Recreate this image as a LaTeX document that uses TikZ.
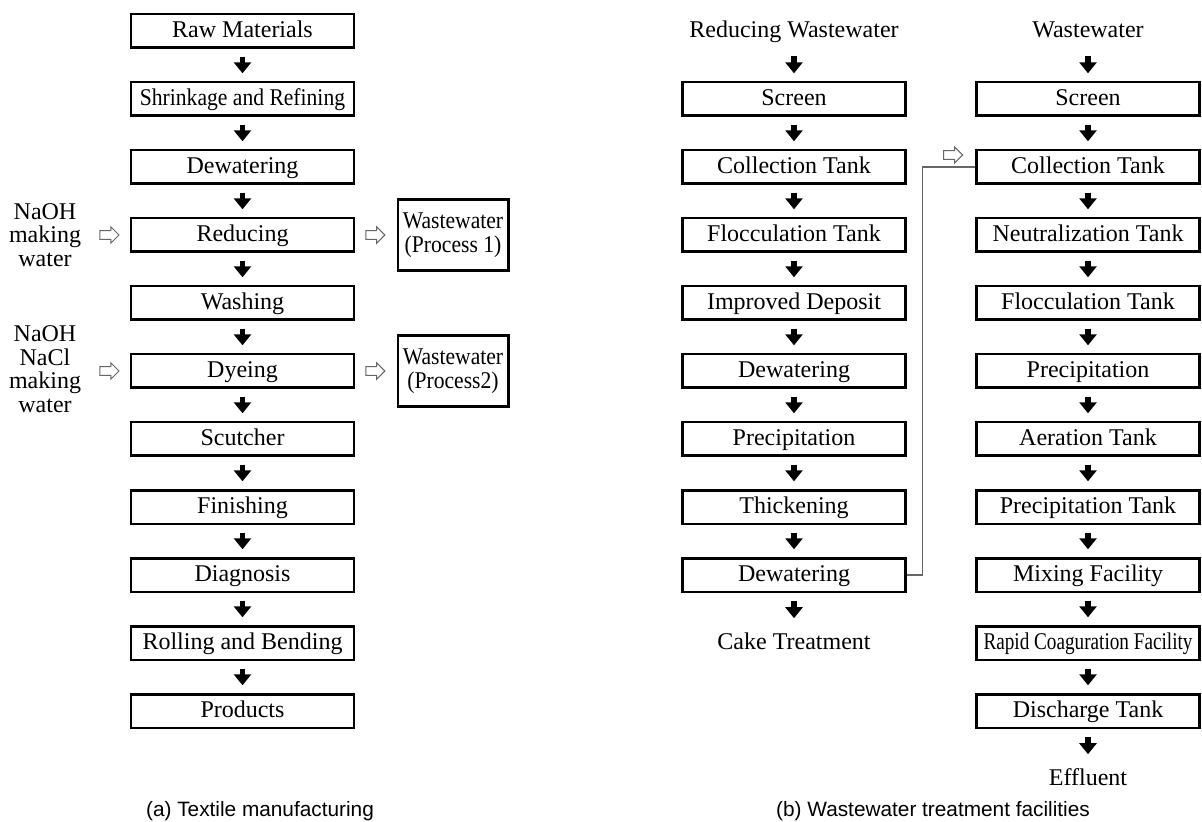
\documentclass[tikz,border=0pt]{standalone}
\usepackage{fontspec}
\setmainfont{Liberation Serif}
\setsansfont{Liberation Sans}
\newfontfamily\narrowfont[FakeStretch=0.9]{Liberation Serif}
\newfontfamily\condensedfont[FakeStretch=0.8]{Liberation Serif}
\usepackage{tikz}
\usetikzlibrary{positioning, arrows.meta, shapes.arrows}

\begin{document}
\begin{tikzpicture}[
        x=0.5pt, y=-0.5pt,
        font=\fontsize{12}{11.8}\selectfont,
        process/.style={rectangle, draw, line width=1.3pt, minimum width=111.5pt, minimum height=16.8pt, inner sep=0pt, text height=9pt, text depth=2.5pt},
        plain text/.style={minimum height=16.8pt, inner sep=0pt, text height=9pt, text depth=2.5pt},
        waste/.style={rectangle, draw, line width=1.3pt, minimum width=55.2pt, minimum height=35.7pt, inner sep=0pt, align=center, font=\narrowfont\fontsize{12}{11.8}\selectfont},
        side input/.style={align=center, inner sep=0pt},
        hollow arrow/.style={single arrow, draw=black!60, fill=white, line width=0.5pt, minimum height=9.5pt, inner sep=1.9pt, single arrow head extend=1.9pt},
        flow/.style={-{Triangle[width=8.5pt, length=5.5pt]}, line width=2.6pt, shorten <=3.8pt, shorten >=3.8pt},
        return line/.style={draw=black!60, line width=0.6pt},
        caption/.style={font=\sffamily\fontsize{10.4}{12}\selectfont}
    ]
        \useasboundingbox (0,0) rectangle (1202,822);

        % Textile manufacturing steps
        \foreach \name/\label in {1/Raw Materials, 2/{\narrowfont Shrinkage and Refining}, 3/Dewatering, 4/Reducing, 5/Washing, 6/Dyeing, 7/Scutcher, 8/Finishing, 9/Diagnosis, 10/Rolling and Bending, 11/Products}
        {
            \node[process] (T-\name) at (242.5, {31+68*(\name-1)}) {\label};
        }

        \foreach \i [evaluate=\i as \j using int(\i+1)] in {1,...,10}
        {
            \draw[flow] (T-\i.south) -- (T-\j.north);
        }

        % Inputs and wastewater of reducing and dyeing
        \node[side input] (naoh) at (45,235) {NaOH\\making\\water};
        \node[hollow arrow, left=5pt of T-4] (in-reduce) {};
        \node[hollow arrow, right=5pt of T-4] (out-reduce) {};
        \node[waste, right=5.5pt of out-reduce] (W-1) {Wastewater\\(Process 1)};

        \node[side input] (naoh-nacl) at (45,369) {NaOH\\NaCl\\making\\water};
        \node[hollow arrow, left=5pt of T-6] (in-dye) {};
        \node[hollow arrow, right=5pt of T-6] (out-dye) {};
        \node[waste, right=5.5pt of out-dye] (W-2) {Wastewater\\(Process2)};

        % Reducing wastewater line
        \node[plain text] (R-0) at (794,31) {Reducing Wastewater};
        \foreach \name/\label in {1/Screen, 2/Collection Tank, 3/Flocculation Tank, 4/Improved Deposit, 5/Dewatering, 6/Precipitation, 7/Thickening, 8/Dewatering}
        {
            \node[process] (R-\name) at (794, {31+68*\name}) {\label};
        }
        \node[plain text] (R-9) at (794,643) {Cake Treatment};

        \foreach \i [evaluate=\i as \j using int(\i+1)] in {0,...,8}
        {
            \draw[flow] (R-\i.south) -- (R-\j.north);
        }

        % Wastewater line
        \node[plain text] (E-0) at (1088,31) {Wastewater};
        \foreach \name/\label in {1/Screen, 2/Collection Tank, 3/Neutralization Tank, 4/Flocculation Tank, 5/Precipitation, 6/Aeration Tank, 7/Precipitation Tank, 8/Mixing Facility, 9/{\condensedfont Rapid Coaguration Facility}, 10/Discharge Tank}
        {
            \node[process] (E-\name) at (1088, {31+68*\name}) {\label};
        }
        \node[plain text] (E-11) at (1088,779) {Effluent};

        \foreach \i [evaluate=\i as \j using int(\i+1)] in {0,...,10}
        {
            \draw[flow] (E-\i.south) -- (E-\j.north);
        }

        % Dewatering back to collection tank
        \draw[return line] (R-8.east) -- ++(16,0) |- (E-2.west);
        \node[hollow arrow] (to-collection) at (951,155) {};

        % Captions
        \node[caption] (cap-a) at (260,811) {(a) Textile manufacturing};
        \node[caption] (cap-b) at (933,811) {(b) Wastewater treatment facilities};

    \end{tikzpicture}
\end{document}
